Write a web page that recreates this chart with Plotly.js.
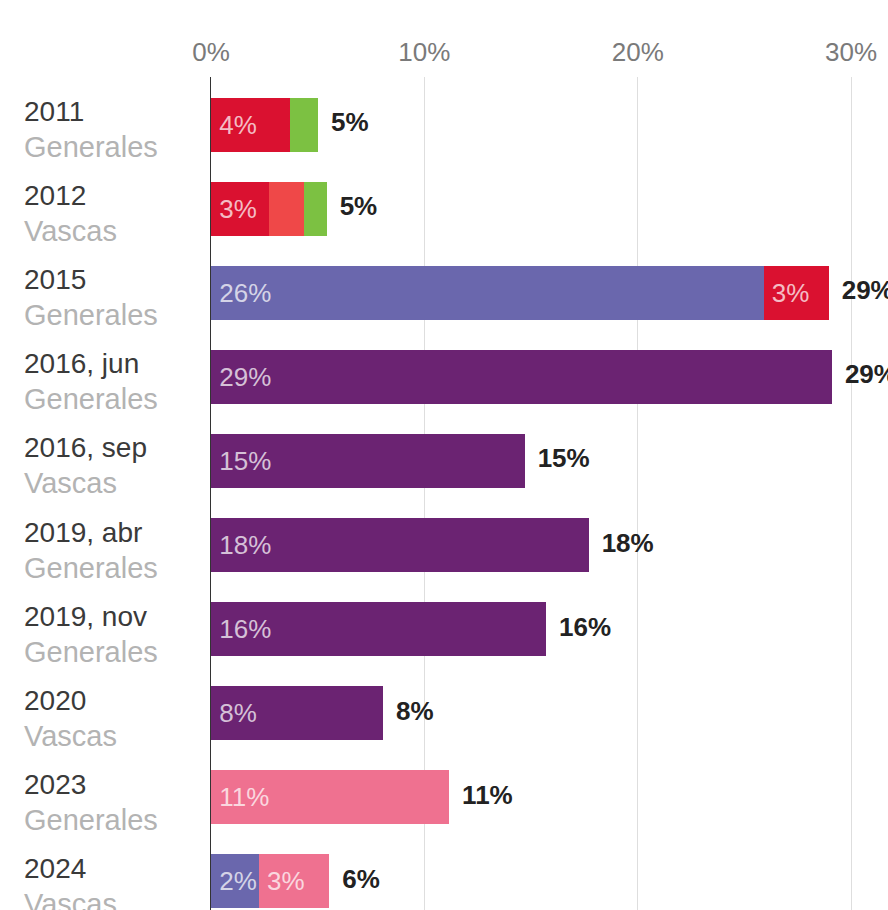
<!DOCTYPE html>
<html>
<head>
<meta charset="utf-8">
<script src="https://cdn.plot.ly/plotly-3.0.1.min.js"></script>
<style>html,body{margin:0;padding:0;background:#fff;}#chart{width:888px;height:910px;}</style>
</head>
<body>
<div id="chart"></div>
<script>
// Categories (elections)
var elections = ['2011', '2012', '2015', '2016, jun', '2016, sep', '2019, abr', '2019, nov', '2020', '2023', '2024'];
var electionTypes = ['Generales', 'Vascas', 'Generales', 'Generales', 'Vascas', 'Generales', 'Generales', 'Vascas', 'Generales', 'Vascas'];

// Vote share by list (%)
var podemos      = [null, null, 25.9, null, null, null, null, null, null, 2.24];
var iu           = [3.7, 2.7, 3.05, null, null, null, null, null, null, null];
var ezkerAnitza  = [null, 1.64, null, null, null, null, null, null, null, null];
var equo         = [1.32, 1.08, null, null, null, null, null, null, null, null];
var unidasPodemos = [null, null, null, 29.1, 14.7, 17.7, 15.7, 8.06, null, null];
var sumar        = [null, null, null, null, null, null, null, null, 11.16, 3.3];

// X tick values
var xTicks = [0, 10, 20, 30];

var series = [
  {name: 'Podemos', values: podemos, color: '#6a67ad'},
  {name: 'IU', values: iu, color: '#da1130'},
  {name: 'Ezker Anitza', values: ezkerAnitza, color: '#ef4848'},
  {name: 'Equo', values: equo, color: '#7cc142'},
  {name: 'Unidas Podemos', values: unidasPodemos, color: '#6b2372'},
  {name: 'Sumar', values: sumar, color: '#ef7190'}
];

var FONT = 'Liberation Sans, Arial, Helvetica, sans-serif';

var traces = series.map(function (s) {
  return {
    type: 'bar',
    orientation: 'h',
    name: s.name,
    y: elections,
    x: s.values,
    marker: {color: s.color, line: {width: 0}},
    text: s.values.map(function (v) { return (v !== null && v >= 2) ? '\u2009' + Math.round(v) + '%' : ''; }),
    textposition: 'inside',
    insidetextanchor: 'start',
    textangle: 0,
    constraintext: 'none',
    textfont: {family: FONT, size: 26, color: 'rgba(255,255,255,0.72)'},
    hoverinfo: 'x+y+name'
  };
});

var totals = elections.map(function (e, i) {
  var t = 0;
  series.forEach(function (s) { if (s.values[i] !== null) t += s.values[i]; });
  return t;
});

traces.push({
  type: 'scatter',
  mode: 'text',
  y: elections,
  x: totals,
  text: totals.map(function (t) { return '\u2002' + Math.round(t) + '%'; }),
  textposition: 'middle right',
  textfont: {family: FONT, size: 26, color: '#222', weight: 'bold'},
  cliponaxis: false,
  hoverinfo: 'skip',
  showlegend: false
});

var annotations = elections.map(function (e, i) {
  return {
    xref: 'paper', yref: 'y',
    x: (22 - 211) / 677, y: i,
    xanchor: 'left', yanchor: 'middle', align: 'left',
    yshift: -5,
    showarrow: false,
    font: {family: FONT, size: 28, color: '#333'},
    text: '<span style="color:#3a3a3a">' + e + '</span><br><span style="color:#b3b3b3;font-size:29px">' + electionTypes[i] + '</span>'
  };
});

var layout = {
  width: 888, height: 910,
  margin: {l: 211, r: 0, t: 77, b: 0, pad: 0},
  paper_bgcolor: '#fff', plot_bgcolor: '#fff',
  barmode: 'stack',
  bargap: 0.36,
  showlegend: false,
  xaxis: {
    side: 'top',
    range: [0, 31.73],
    tickvals: xTicks,
    ticktext: xTicks.map(function (v) { return v + '%'; }),
    showgrid: true, gridcolor: '#dedede', gridwidth: 1,
    zeroline: false, showline: false, ticks: '',
    ticklabelstandoff: 10,
    tickfont: {family: FONT, size: 26, color: '#7a7a7a'},
    fixedrange: true
  },
  yaxis: {
    type: 'category',
    categoryorder: 'array', categoryarray: elections,
    range: [9.345, -0.571],
    showticklabels: false, showgrid: false, zeroline: false,
    showline: true, linecolor: '#333', linewidth: 1.5,
    ticks: '',
    fixedrange: true
  },
  annotations: annotations
};

Plotly.newPlot('chart', traces, layout, {displayModeBar: false, staticPlot: true});
</script>
</body>
</html>
